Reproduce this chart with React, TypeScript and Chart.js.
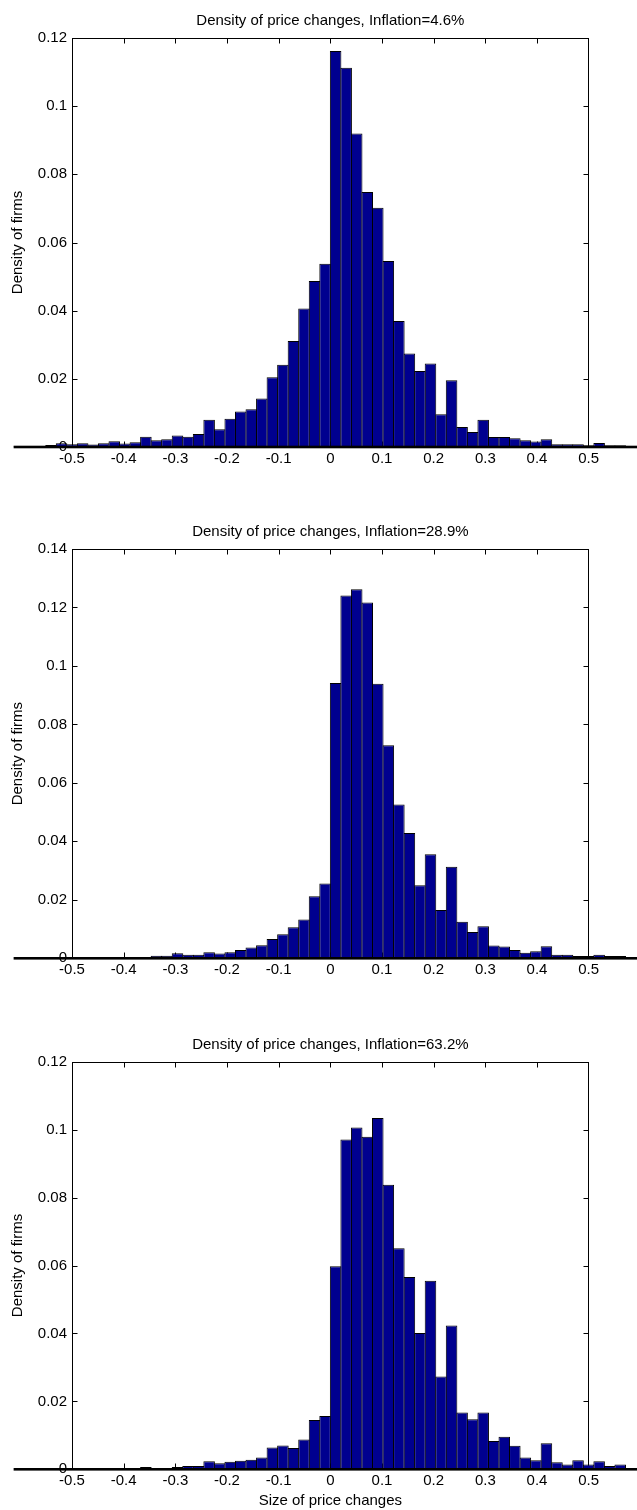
import React, { useEffect, useRef } from "react";
import { Chart, registerables } from "chart.js";

Chart.register(...registerables);

// ---------------- data ----------------
// Histogram bins: 60 equal bins, edges at BIN_START + k * BIN_WIDTH
const BIN_COUNT = 60;
const BIN_WIDTH = 0.0204;
const BIN_START = -0.612;
const binCenters: number[] = Array.from({ length: BIN_COUNT }, (_, i) =>
  Number((BIN_START + (i + 0.5) * BIN_WIDTH).toFixed(4))
);

const titles = [
  "Density of price changes, Inflation=4.6%",
  "Density of price changes, Inflation=28.9%",
  "Density of price changes, Inflation=63.2%",
];

const xTickValues = [-0.5, -0.4, -0.3, -0.2, -0.1, 0, 0.1, 0.2, 0.3, 0.4, 0.5];
const yTicks012 = [0, 0.02, 0.04, 0.06, 0.08, 0.1, 0.12];
const yTicks014 = [0, 0.02, 0.04, 0.06, 0.08, 0.1, 0.12, 0.14];

const density46 = [
  0.0002, 0.0002, 0.0003, 0.0006, 0.0011, 0.0008, 0.0011, 0.0007, 0.0011, 0.0017,
  0.001, 0.0014, 0.003, 0.002, 0.0023, 0.0034, 0.003, 0.0038, 0.008, 0.0052,
  0.0083, 0.0104, 0.0111, 0.0142, 0.0205, 0.0241, 0.0311, 0.0406, 0.0487, 0.0538,
  0.1162, 0.1113, 0.092, 0.0748, 0.0702, 0.0546, 0.037, 0.0274, 0.0223, 0.0245,
  0.0096, 0.0196, 0.0059, 0.0044, 0.008, 0.0029, 0.0029, 0.0026, 0.002, 0.0016,
  0.0023, 0.0008, 0.0008, 0.0008, 0.0005, 0.0012, 0.0005, 0.0005, 0.0003, 0.0003,
];

const density289 = [
  0.0001, 0.0001, 0.0001, 0.0001, 0.0001, 0.0001, 0.0001, 0.0001, 0.0001, 0.0001,
  0.0001, 0.0001, 0.0001, 0.0009, 0.0009, 0.0017, 0.0012, 0.0012, 0.0021, 0.0016,
  0.0021, 0.0028, 0.0037, 0.0045, 0.0066, 0.0082, 0.0106, 0.0133, 0.0212, 0.0256,
  0.0942, 0.1241, 0.1262, 0.1217, 0.0939, 0.0729, 0.0526, 0.0429, 0.025, 0.0356,
  0.0165, 0.0313, 0.0125, 0.009, 0.011, 0.0044, 0.004, 0.0028, 0.0019, 0.0024,
  0.0041, 0.0012, 0.0012, 0.0008, 0.0008, 0.0012, 0.0008, 0.0008, 0.0003, 0.0003,
];

const density632 = [
  0.0001, 0.0001, 0.0001, 0.0001, 0.0001, 0.0001, 0.0001, 0.0001, 0.0001, 0.0001,
  0.0001, 0.0001, 0.0007, 0.0002, 0.0002, 0.0007, 0.001, 0.001, 0.0024, 0.0018,
  0.0022, 0.0025, 0.0028, 0.0035, 0.0064, 0.007, 0.0063, 0.0088, 0.0145, 0.0157,
  0.0598, 0.0971, 0.1006, 0.0979, 0.1034, 0.0838, 0.0651, 0.0566, 0.0401, 0.0555,
  0.0273, 0.0423, 0.0167, 0.0147, 0.0167, 0.0083, 0.0096, 0.0069, 0.0035, 0.0027,
  0.0077, 0.0021, 0.0014, 0.0027, 0.0014, 0.0024, 0.001, 0.0014, 0.0003, 0.0003,
];

// ---------------- layout / style ----------------
const FONT_FAMILY = "'Liberation Sans', Arial, Helvetica, sans-serif";
const FONT_SIZE = 15;
const BAR_FILL = "#00008F";
const PAGE_W = 637;
const PLOT_LEFT = 72;
const PLOT_RIGHT = 588.7;

type PanelSpec = {
  title: string;
  values: number[];
  yMax: number;
  yTicks: number[];
  top: number;
  height: number;
  plotTop: number;
  plotBottom: number;
  xTitle: boolean;
};

const panels: PanelSpec[] = [
  { title: titles[0], values: density46, yMax: 0.12, yTicks: yTicks012, top: 0, height: 511, plotTop: 38, plotBottom: 447, xTitle: false },
  { title: titles[1], values: density289, yMax: 0.14, yTicks: yTicks014, top: 511, height: 513, plotTop: 38, plotBottom: 447.3, xTitle: false },
  { title: titles[2], values: density632, yMax: 0.12, yTicks: yTicks012, top: 1024, height: 486, plotTop: 37.7, plotBottom: 445.3, xTitle: true },
];

const fmt = (v: any) => String(Number(Number(v).toFixed(4)));

const matlabAxes = {
  id: "matlabAxes",
  beforeDatasetsDraw(chart: any) {
    const { ctx, chartArea } = chart;
    const { left, right, top, bottom } = chartArea;
    const xs = chart.scales.x;
    const ys = chart.scales.y;
    const L = Math.round(left) + 0.5;
    const R = Math.round(right) - 0.5;
    const T = Math.round(top) + 0.5;
    const B = Math.round(bottom) - 0.5;
    ctx.save();
    ctx.strokeStyle = "#000";
    ctx.lineWidth = 1;
    ctx.beginPath();
    xs.ticks.forEach((t: any) => {
      const px = Math.round(xs.getPixelForValue(t.value)) + 0.5;
      if (px > L + 2 && px < R - 2) {
        ctx.moveTo(px, T);
        ctx.lineTo(px, T + 5);
        ctx.moveTo(px, B);
        ctx.lineTo(px, B - 5);
      }
    });
    ys.ticks.forEach((t: any) => {
      const py = Math.round(ys.getPixelForValue(t.value)) + 0.5;
      if (py > T + 2 && py < B - 2) {
        ctx.moveTo(L, py);
        ctx.lineTo(L + 5, py);
        ctx.moveTo(R, py);
        ctx.lineTo(R - 5, py);
      }
    });
    ctx.stroke();
    ctx.strokeRect(L, T, R - L, B - T);
    ctx.restore();
  },
  afterDatasetsDraw(chart: any) {
    const { ctx } = chart;
    const meta = chart.getDatasetMeta(0);
    if (!meta || !meta.data.length) return;
    const first = meta.data[0];
    const last = meta.data[meta.data.length - 1];
    const x0 = first.x - first.width / 2;
    const x1 = last.x + last.width / 2;
    const y0 = chart.scales.y.getPixelForValue(0);
    ctx.save();
    ctx.fillStyle = "#000";
    ctx.fillRect(x0, y0 - 1.3, x1 - x0, 2.6);
    ctx.restore();
  },
};

function HistPanel({ spec }: { spec: PanelSpec }) {
  const ref = useRef<HTMLCanvasElement | null>(null);

  useEffect(() => {
    if (!ref.current) return;
    const font = { family: FONT_FAMILY, size: FONT_SIZE, weight: "normal" as const };
    const xH = spec.xTitle ? spec.height - spec.plotBottom : 40;
    const padBottom = spec.height - spec.plotBottom - xH;
    const titleBlock = FONT_SIZE * 1.2 + 8;
    const barPx = BIN_WIDTH * (PLOT_RIGHT - PLOT_LEFT);
    const chart = new Chart(ref.current, {
      type: "bar",
      data: {
        datasets: [
          {
            data: binCenters.map((c, i) => ({ x: c, y: spec.values[i] })),
            backgroundColor: BAR_FILL,
            borderColor: "#000",
            borderWidth: 1,
            borderSkipped: "start",
            barPercentage: 1 + 1 / barPx,
            categoryPercentage: 1,
            clip: false,
          } as any,
        ],
      },
      options: {
        animation: false,
        responsive: false,
        devicePixelRatio: 1,
        events: [],
        layout: {
          padding: {
            left: 0,
            right: PAGE_W - PLOT_RIGHT,
            top: spec.plotTop - titleBlock,
            bottom: padBottom,
          },
        },
        plugins: {
          legend: { display: false },
          tooltip: { enabled: false },
          title: {
            display: true,
            text: spec.title,
            color: "#000",
            font,
            fullSize: false,
            padding: { top: 0, bottom: 8 },
          },
        },
        scales: {
          x: {
            type: "linear",
            min: -0.5,
            max: 0.5,
            offset: false,
            afterBuildTicks: (s: any) => {
              s.ticks = xTickValues.map((v) => ({ value: v }));
            },
            afterFit: (s: any) => {
              s.height = xH;
            },
            ticks: {
              autoSkip: false,
              maxRotation: 0,
              minRotation: 0,
              padding: 3,
              color: "#000",
              font,
              callback: fmt,
            },
            grid: { display: false, drawTicks: false },
            border: { display: false },
            title: {
              display: spec.xTitle,
              text: "Size of price changes",
              color: "#000",
              font,
              padding: { top: 0, bottom: 0 },
            },
          },
          y: {
            type: "linear",
            min: 0,
            max: spec.yMax,
            afterBuildTicks: (s: any) => {
              s.ticks = spec.yTicks.map((v) => ({ value: v }));
            },
            afterFit: (s: any) => {
              s.width = PLOT_LEFT;
            },
            ticks: {
              autoSkip: false,
              padding: 5,
              color: "#000",
              font,
              callback: fmt,
            },
            grid: { display: false, drawTicks: false },
            border: { display: false },
            title: {
              display: true,
              text: "Density of firms",
              color: "#000",
              font,
              padding: { top: 9, bottom: 0 },
            },
          },
        },
      } as any,
      plugins: [matlabAxes],
    });
    return () => chart.destroy();
  }, [spec]);

  return (
    <div style={{ position: "absolute", left: 0, top: spec.top, width: PAGE_W, height: spec.height }}>
      <canvas ref={ref} width={PAGE_W} height={spec.height} style={{ display: "block" }} />
    </div>
  );
}

export default function App() {
  return (
    <div style={{ position: "absolute", left: 0, top: 0, width: PAGE_W, height: 1510, background: "#fff" }}>
      {panels.map((p, i) => (
        <HistPanel key={i} spec={p} />
      ))}
    </div>
  );
}
